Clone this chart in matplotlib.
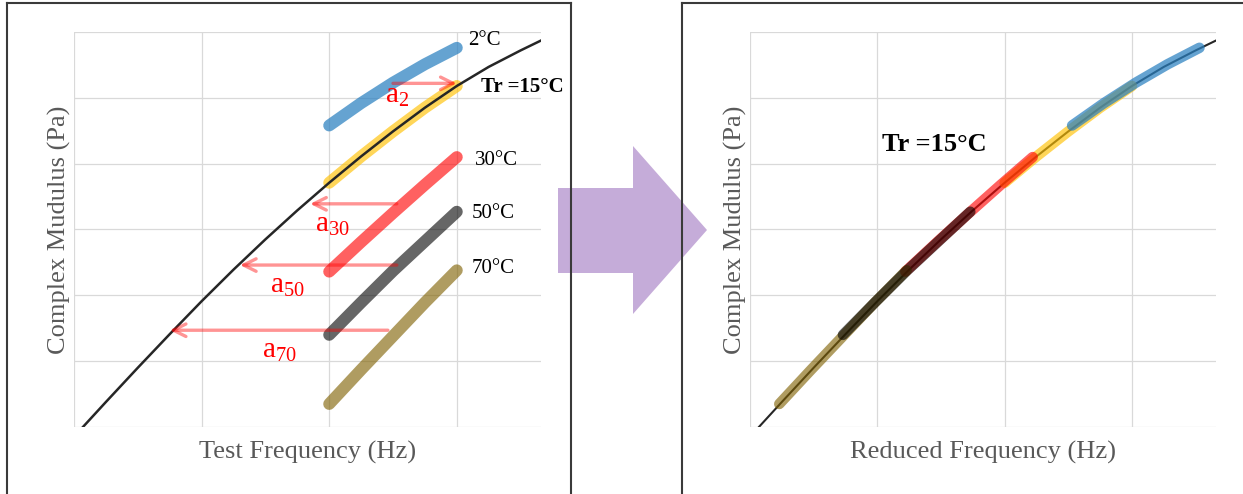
import matplotlib.pyplot as plt
from matplotlib.lines import Line2D
from matplotlib.patches import Polygon

plt.rcParams['font.family'] = ['Liberation Serif', 'DejaVu Serif']
plt.rcParams['mathtext.fontset'] = 'custom'
plt.rcParams['mathtext.rm'] = 'Liberation Serif'
plt.rcParams['mathtext.default'] = 'regular'

# master curve at the reference temperature (log frequency vs log modulus, schematic)
master_x = [0.07, 0.25, 0.5, 0.75, 1.0, 1.25, 1.5, 1.75, 2.0, 2.25, 2.5, 2.75, 3.0, 3.25, 3.5, 3.67]
master_y = [0.0, 0.38, 0.90, 1.41, 1.91, 2.39, 2.85, 3.29, 3.71, 4.11, 4.49, 4.85, 5.18, 5.47, 5.72, 5.88]

# measured isotherms over the test frequency window
test_x = [2.0, 2.25, 2.5, 2.75, 3.0]
y_2c = [4.58, 4.92, 5.23, 5.51, 5.76]
y_15c = [3.71, 4.11, 4.49, 4.85, 5.18]
y_30c = [2.36, 2.81, 3.25, 3.68, 4.10]
y_50c = [1.40, 1.89, 2.37, 2.82, 3.27]
y_70c = [0.35, 0.87, 1.38, 1.89, 2.38]

# log shift factors (a_T)
shift_2c = 0.53
shift_15c = 0.0
shift_30c = -0.78
shift_50c = -1.27
shift_70c = -1.77

temp_labels = ['2°C', 'Tr =15°C', '30°C', '50°C', '70°C']

# shift arrows on the left panel
arrow_y = [5.22, 3.39, 2.46, 1.47]
arrow_from = [2.50, 2.53, 2.53, 2.46]
arrow_to = [3.00, 1.85, 1.30, 0.75]
arrow_labels = ['a$_{2}$', 'a$_{30}$', 'a$_{50}$', 'a$_{70}$']

# (values, shift, colour, alpha), drawn in this order on the right panel
isotherms = [
    (y_15c, shift_15c, '#FFC000', 0.65),
    (y_2c, shift_2c, '#2A80C0', 0.72),
    (y_30c, shift_30c, '#FF0000', 0.62),
    (y_70c, shift_70c, '#7F6000', 0.62),
    (y_50c, shift_50c, '#000000', 0.6),
]

W, H = 1243, 494
fig = plt.figure(figsize=(W / 100, H / 100), dpi=100)


def px_axes(x0, x1, y0, y1):
    return fig.add_axes([x0 / W, 1 - y1 / H, (x1 - x0) / W, (y1 - y0) / H])


def style(ax, xlabel):
    ax.set_xlim(0, 3.66)
    ax.set_ylim(0, 6)
    ax.set_xticks([0, 1, 2, 3])
    ax.set_yticks(range(7))
    ax.tick_params(length=0, labelbottom=False, labelleft=False)
    for s in ax.spines.values():
        s.set_visible(False)
    ax.grid(True, color='#D9D9D9', lw=0.9)
    ax.set_axisbelow(True)
    ax.set_xlabel(xlabel, fontsize=19, color='#595959', labelpad=10)
    ax.set_ylabel('Complex Mudulus (Pa)', fontsize=19, color='#595959', labelpad=2)


# frames round the two panels (drawn before the arrow so it tints them)
for xs, ys in [([7, 7], [3, H]), ([571, 571], [3, H]), ([7, 571], [3, 3]),
               ([682, 682], [3, H]), ([682, W], [3, 3])]:
    fig.add_artist(Line2D([x / W for x in xs], [1 - y / H for y in ys],
                          color='#3a3a3a', lw=1.5))

# big purple arrow between the panels
arrow_pts = [(558, 188), (633, 188), (633, 146), (707, 230), (633, 314), (633, 273), (558, 273)]
fig.add_artist(Polygon([(x / W, 1 - y / H) for x, y in arrow_pts], closed=True,
                       facecolor='#7030A0', alpha=0.4, edgecolor='none',
                       transform=fig.transFigure))

# ---- left panel: test frequency ----
ax1 = px_axes(74, 541, 32, 427)
style(ax1, 'Test Frequency (Hz)')
for y, shift, col, a in isotherms:
    ax1.plot(test_x, y, color=col, alpha=a, lw=8.6, solid_capstyle='round', zorder=2)
ax1.plot(master_x, master_y, color='#262626', lw=1.8, zorder=3)

for x0, x1, y in zip(arrow_from, arrow_to, arrow_y):
    ax1.annotate('', xy=(x1, y), xytext=(x0, y),
                 arrowprops=dict(arrowstyle='->,head_length=0.9,head_width=0.45',
                                 color='#FF0000', alpha=0.42, lw=2.4,
                                 shrinkA=0, shrinkB=0), zorder=4)

lab_x = [2.44, 1.89, 1.54, 1.47]
lab_y = [4.92, 2.96, 2.04, 1.05]
for t, x, y in zip(arrow_labels, lab_x, lab_y):
    ax1.text(x, y, t, color='red', fontsize=21, ha='left', va='baseline', zorder=5)

temp_x = [3.09, 3.19, 3.14, 3.12, 3.12]
temp_y = [5.81, 5.09, 3.98, 3.18, 2.34]
for t, x, y in zip(temp_labels, temp_x, temp_y):
    ax1.text(x, y, t, fontsize=15, ha='left', va='baseline', color='black',
             fontweight='bold' if t.startswith('Tr') else 'normal', zorder=5)

# ---- right panel: reduced frequency ----
ax2 = px_axes(750, 1216, 32, 427)
style(ax2, 'Reduced Frequency (Hz)')
ax2.plot(master_x, master_y, color='#262626', lw=1.5, zorder=2)
for y, shift, col, a in isotherms:
    ax2.plot([x + shift for x in test_x], y, color=col, alpha=a, lw=7.6,
             solid_capstyle='round', zorder=3)
ax2.text(1.04, 4.19, 'Tr =15°C', fontsize=19, fontweight='bold', ha='left',
         va='baseline', zorder=5)

fig.savefig('out.png', dpi=100)
